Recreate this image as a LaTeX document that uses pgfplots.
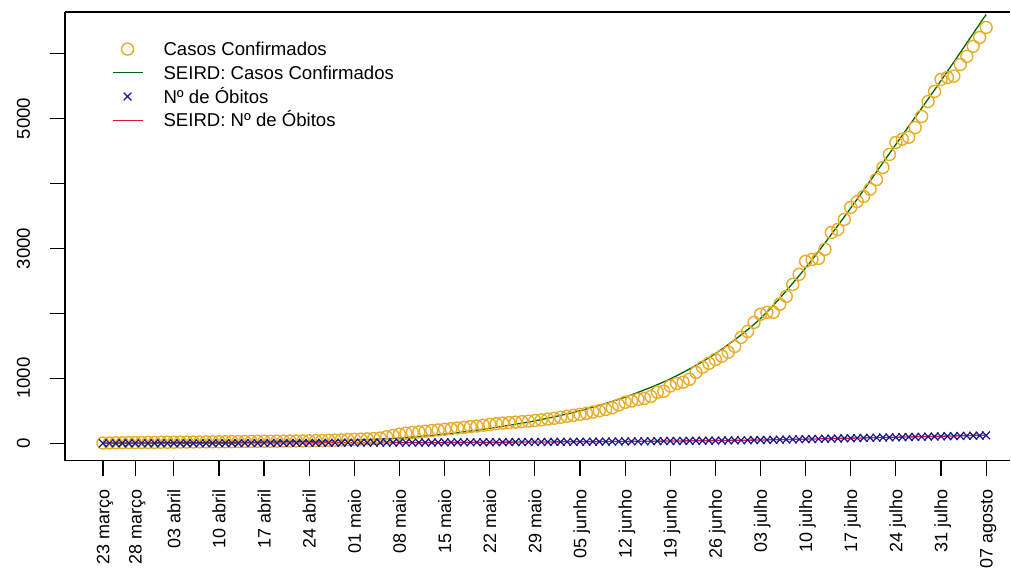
\documentclass[border=0pt]{standalone}
\usepackage{fontspec}
\setmainfont{Liberation Sans}
\usepackage{pgfplots}
\pgfplotsset{compat=1.18}
\usepackage{pgfplotstable}
\definecolor{cgold}{RGB}{232,172,40}
\definecolor{cgreen}{RGB}{0,100,0}
\definecolor{cblue}{RGB}{25,25,140}
\definecolor{cred}{RGB}{225,20,50}
\pgfplotsset{
  linelegend/.style={legend image code/.code={\draw[##1] (0pt,0pt) -- (30pt,0pt); \path[draw=none,fill=none] (0pt,0pt) -- (51pt,0pt);}},
  marklegend/.style={legend image code/.code={\draw[##1] plot coordinates {(15pt,0pt)}; \path[draw=none,fill=none] (0pt,0pt) -- (51pt,0pt);}},
}

\pgfplotstableread{
d v
0 3
1 5
2 7
3 8
4 9
5 10
6 11
7 12
8 13
9 14
10 15
11 16
12 17
13 18
14 19
15 20
16 21
17 22
18 23
19 24
20 25
21 26
22 27
23 28
24 29
25 30
26 31
27 32
28 33
29 34
30 35
31 36
32 38
33 40
34 42
35 45
36 48
37 52
38 56
39 60
40 64
41 68
42 72
43 80
44 100
45 120
46 140
47 155
48 165
49 175
50 185
51 195
52 205
53 215
54 225
55 235
56 245
57 255
58 265
59 278
60 290
61 300
62 310
63 318
64 325
65 332
66 340
67 350
68 360
69 372
70 385
71 400
72 415
73 430
74 445
75 460
76 480
77 500
78 520
79 545
80 590
81 630
82 650
83 675
84 690
85 720
86 785
87 800
88 880
89 920
90 940
91 985
92 1090
93 1170
94 1230
95 1290
96 1340
97 1400
98 1490
99 1630
100 1720
101 1860
102 1985
103 2015
104 2015
105 2140
106 2260
107 2445
108 2600
109 2800
110 2830
111 2845
112 2985
113 3245
114 3290
115 3445
116 3630
117 3720
118 3800
119 3910
120 4060
121 4245
122 4445
123 4630
124 4680
125 4710
126 4860
127 5030
128 5260
129 5415
130 5600
131 5630
132 5650
133 5830
134 5955
135 6110
136 6245
137 6400
}\casos

\pgfplotstableread{
d v
0 0
1 0
2 0
3 0
4 0
5 0
6 0
7 0
8 0
9 0
10 0
11 0
12 0
13 0
14 0
15 0
16 1
17 1
18 1
19 2
20 2
21 2
22 3
23 3
24 3
25 4
26 4
27 4
28 5
29 5
30 5
31 6
32 6
33 6
34 7
35 7
36 7
37 8
38 8
39 8
40 9
41 9
42 9
43 10
44 10
45 10
46 11
47 11
48 11
49 12
50 12
51 12
52 13
53 13
54 14
55 14
56 14
57 15
58 15
59 16
60 16
61 16
62 17
63 17
64 18
65 18
66 19
67 19
68 20
69 20
70 21
71 21
72 22
73 22
74 23
75 24
76 24
77 25
78 26
79 26
80 27
81 28
82 28
83 29
84 30
85 31
86 32
87 33
88 34
89 35
90 36
91 37
92 38
93 39
94 40
95 41
96 42
97 43
98 44
99 46
100 47
101 48
102 50
103 51
104 53
105 55
106 57
107 59
108 61
109 63
110 65
111 67
112 69
113 71
114 73
115 75
116 78
117 80
118 82
119 84
120 86
121 88
122 90
123 92
124 94
125 96
126 98
127 100
128 102
129 104
130 106
131 108
132 110
133 112
134 114
135 116
136 118
137 121
}\obitos

\pgfplotstableread{
d v
0 2
5 4
11 7
18 11
25 18
32 30
39 50
46 80
53 140
60 230
67 345
74 500
81 710
88 990
95 1380
102 1920
109 2700
116 3620
123 4600
130 5580
137 6600
}\seirdc

\pgfplotstableread{
d v
0 0
20 2
40 8
60 16
74 23
88 34
102 50
116 78
130 108
137 125
}\seirdo

\begin{document}
\begin{tikzpicture}
\path (-65pt,-108pt) rectangle (946pt,461pt);
\begin{axis}[
  at={(0pt,0pt)}, anchor=south west,
  scale only axis, width=946pt, height=449pt,
  xmin=-5.89, xmax=140.77, ymin=-269, ymax=6638,
  axis x line*=box, axis y line*=left,
  xtick pos=bottom, ytick pos=left,
  axis line style={line width=1.2pt, black},
  tick style={line width=1.2pt, black},
  major tick length=15pt, tick align=outside,
  font=\fontsize{18.6}{22}\selectfont,
  xtick={0,5,11,18,25,32,39,46,53,60,67,74,81,88,95,102,109,116,123,130,137},
  xticklabels={23 março,28 março,03 abril,10 abril,17 abril,24 abril,01 maio,08 maio,15 maio,22 maio,29 maio,05 junho,12 junho,19 junho,26 junho,03 julho,10 julho,17 julho,24 julho,31 julho,07 agosto},
  ytick={0,1000,2000,3000,4000,5000,6000},
  yticklabels={0,1000,,3000,,5000,},
  xticklabel style={rotate=90, anchor=east, inner sep=0pt, text height=12.9pt, text depth=0pt, overlay, font=\fontsize{18}{21}\selectfont},
  yticklabel style={rotate=90, anchor=south, inner sep=0pt, text height=13.3pt, text depth=0pt},
  xticklabel shift=14pt,
  yticklabel shift=20pt,
  legend style={draw=none, fill=none, inner sep=0pt, outer sep=0pt,
    at={(axis description cs:0.0497,0.932)}, anchor=north west,
    row sep=10.4pt, nodes={inner sep=0pt, text height=13.3pt, text depth=0pt},
    font=\fontsize{18.6}{22}\selectfont},
  legend cell align=left,
]
\addplot[only marks, mark=o, mark size=6pt, color=cgold, mark options={line width=1.4pt}, marklegend]
  table[x=d,y=v] {\casos};
\addlegendentry{Casos Confirmados}
\addplot[cgreen, line width=1.3pt, smooth, tension=0.5, no marks, linelegend]
  table[x=d,y=v] {\seirdc};
\addlegendentry{SEIRD: Casos Confirmados}
\addplot[only marks, mark=x, mark size=5.5pt, color=cblue, mark options={line width=1.2pt}, marklegend]
  table[x=d,y=v] {\obitos};
\addlegendentry{Nº de Óbitos}
\addplot[cred, line width=1.3pt, smooth, tension=0.5, no marks, linelegend]
  table[x=d,y=v] {\seirdo};
\addlegendentry{SEIRD: Nº de Óbitos}
\end{axis}
\end{tikzpicture}
\end{document}
